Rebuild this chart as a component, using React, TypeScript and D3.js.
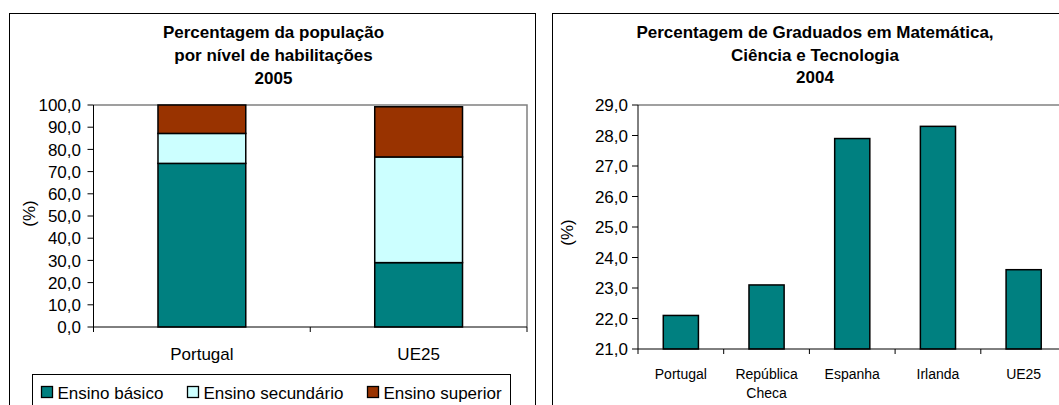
import React from 'react';
import * as d3 from 'd3';

// Left chart: population by education level, 2005
const popCategories = ['Portugal', 'UE25'];
const popSeries = ['Ensino básico', 'Ensino secundário', 'Ensino superior'];
const popBasico = [73.7, 29.0];
const popSecundario = [13.5, 47.6];
const popSuperior = [12.8, 22.6];
const popTicks = [0, 10, 20, 30, 40, 50, 60, 70, 80, 90, 100];

// Right chart: graduates in maths, science & technology, 2004
const gradCategories = ['Portugal', 'República\nCheca', 'Espanha', 'Irlanda', 'UE25'];
const gradValues = [22.1, 23.1, 27.9, 28.3, 23.6];
const gradTicks = [21, 22, 23, 24, 25, 26, 27, 28, 29];

const COLORS = ['#008080', '#CCFFFF', '#993300'];
const FONT = '"Liberation Sans", Arial, sans-serif';
const fmt = (v: number) => v.toFixed(1).replace('.', ',');

const LeftChart: React.FC = () => {
  const plot = { x0: 93.5, x1: 527, y0: 105, y1: 327 };
  const x = d3.scaleBand<string>().domain(popCategories).range([plot.x0, plot.x1]);
  const y = d3.scaleLinear().domain([0, 100]).range([plot.y1, plot.y0]);
  const rows = popCategories.map((c, i) => ({
    cat: c,
    'Ensino básico': popBasico[i],
    'Ensino secundário': popSecundario[i],
    'Ensino superior': popSuperior[i],
  }));
  const stacked = d3.stack<any>().keys(popSeries)(rows);
  const bw = x.bandwidth() * 0.405;

  return (
    <g>
      <rect x={9.5} y={13.5} width={526} height={420} fill="#fff" stroke="#000" strokeWidth={1} />
      <g fontFamily={FONT} fontWeight="bold" fontSize={17} textAnchor="middle" fill="#000">
        <text x={273.5} y={38}>Percentagem da população</text>
        <text x={273.5} y={61}>por nível de habilitações</text>
        <text x={273.5} y={83.5}>2005</text>
      </g>
      {/* plot frame */}
      <path d={`M${plot.x0},${plot.y0}H${plot.x1}V${plot.y1}`} fill="none" stroke="#808080" strokeWidth={1.5} />
      {stacked.map((layer, li) =>
        layer.map((d, i) => (
          <rect
            key={`${li}-${i}`}
            x={(x(popCategories[i]) as number) + (x.bandwidth() - bw) / 2}
            y={y(d[1])}
            width={bw}
            height={y(d[0]) - y(d[1])}
            fill={COLORS[li]}
            stroke="#000"
            strokeWidth={1.5}
          />
        ))
      )}
      {/* axes */}
      <line x1={plot.x0} x2={plot.x0} y1={plot.y0} y2={plot.y1} stroke="#000" />
      <line x1={plot.x0} x2={plot.x1} y1={plot.y1} y2={plot.y1} stroke="#000" />
      {popTicks.map(t => (
        <g key={t}>
          <line x1={plot.x0 - 6} x2={plot.x0} y1={y(t)} y2={y(t)} stroke="#000" />
          <text x={81} y={y(t)} dy="0.36em" textAnchor="end" fontFamily={FONT} fontSize={17}>
            {fmt(t)}
          </text>
        </g>
      ))}
      {[...popCategories.map(c => x(c) as number), plot.x1].map((v, i) => (
        <line key={i} x1={v} x2={v} y1={plot.y1} y2={plot.y1 + 5} stroke="#000" />
      ))}
      {popCategories.map(c => (
        <text key={c} x={(x(c) as number) + x.bandwidth() / 2} y={360} textAnchor="middle" fontFamily={FONT} fontSize={17}>
          {c}
        </text>
      ))}
      <text transform="translate(35,213.5) rotate(-90)" textAnchor="middle" fontFamily={FONT} fontSize={17}>(%)</text>
      {/* legend */}
      <rect x={32.5} y={374.5} width={478} height={40} fill="#fff" stroke="#000" strokeWidth={1} />
      {popSeries.map((s, i) => {
        const lx = [41.5, 187.5, 367.5][i];
        return (
          <g key={s}>
            <rect x={lx} y={386.5} width={11} height={11} fill={COLORS[i]} stroke="#000" strokeWidth={1.3} />
            <text x={lx + 16} y={398.5} fontFamily={FONT} fontSize={17}>{s}</text>
          </g>
        );
      })}
    </g>
  );
};

const RightChart: React.FC = () => {
  const plot = { x0: 638, x1: 1066.5, y0: 105, y1: 349 };
  const x = d3.scaleBand<string>().domain(gradCategories).range([plot.x0, plot.x1]);
  const y = d3.scaleLinear().domain([21, 29]).range([plot.y1, plot.y0]);
  const bw = x.bandwidth() * 0.41;

  return (
    <g>
      <rect x={552.5} y={13.5} width={540} height={420} fill="#fff" stroke="#000" strokeWidth={1} />
      <g fontFamily={FONT} fontWeight="bold" fontSize={17} textAnchor="middle" fill="#000">
        <text x={815} y={37.5}>Percentagem de Graduados em Matemática,</text>
        <text x={815} y={61}>Ciência e Tecnologia</text>
        <text x={815} y={83}>2004</text>
      </g>
      <path d={`M${plot.x0},${plot.y0}H${plot.x1}`} fill="none" stroke="#808080" strokeWidth={1.5} />
      {gradValues.map((v, i) => (
        <rect
          key={i}
          x={(x(gradCategories[i]) as number) + (x.bandwidth() - bw) / 2}
          y={y(v)}
          width={bw}
          height={y(21) - y(v)}
          fill={COLORS[0]}
          stroke="#000"
          strokeWidth={1.5}
        />
      ))}
      <line x1={plot.x0} x2={plot.x0} y1={plot.y0} y2={plot.y1} stroke="#000" />
      <line x1={plot.x0} x2={plot.x1} y1={plot.y1} y2={plot.y1} stroke="#000" />
      {gradTicks.map(t => (
        <g key={t}>
          <line x1={plot.x0 - 6} x2={plot.x0} y1={y(t)} y2={y(t)} stroke="#000" />
          <text x={628} y={y(t)} dy="0.36em" textAnchor="end" fontFamily={FONT} fontSize={17}>
            {fmt(t)}
          </text>
        </g>
      ))}
      {gradCategories.map(c => (
        <line key={c} x1={x(c) as number} x2={x(c) as number} y1={plot.y1} y2={plot.y1 + 5} stroke="#000" />
      ))}
      {gradCategories.map(c => (
        <text key={c} x={(x(c) as number) + x.bandwidth() / 2} y={378.5} textAnchor="middle" fontFamily={FONT} fontSize={14}>
          {c.split('\n').map((l, j) => (
            <tspan key={j} x={(x(c) as number) + x.bandwidth() / 2} dy={j === 0 ? 0 : 19.5}>{l}</tspan>
          ))}
        </text>
      ))}
      <text transform="translate(573,232.5) rotate(-90)" textAnchor="middle" fontFamily={FONT} fontSize={17}>(%)</text>
    </g>
  );
};

export default function App() {
  return (
    <svg
      width={1059}
      height={405}
      viewBox="0 0 1059 405"
      style={{ position: 'absolute', left: 0, top: 0, display: 'block', background: '#fff' }}
    >
      <LeftChart />
      <RightChart />
    </svg>
  );
}
